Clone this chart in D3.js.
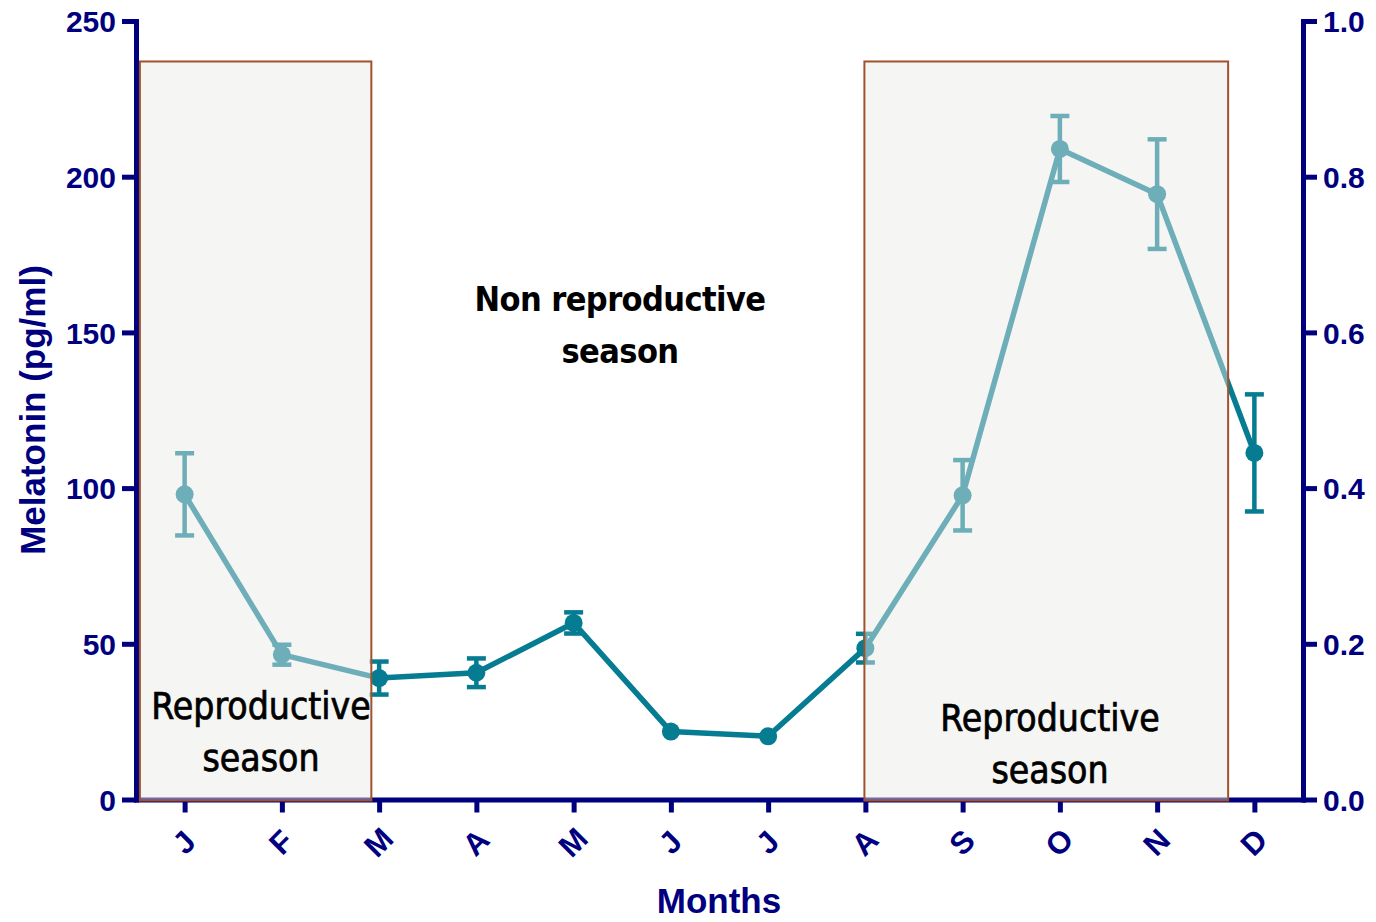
<!DOCTYPE html>
<html>
<head>
<meta charset="utf-8">
<script src="https://cdn.jsdelivr.net/npm/d3@7/dist/d3.min.js"></script>
<style>
  html, body { margin: 0; padding: 0; background: #ffffff; }
  svg { display: block; }
</style>
</head>
<body>
<svg id="chart" width="1376" height="922"></svg>
<script>
// Monthly melatonin concentration (mean ± SEM)
const months = ["J", "F", "M", "A", "M", "J", "J", "A", "S", "O", "N", "D"];
const melatonin = [98, 46.5, 39, 40.7, 56.7, 21.8, 20.3, 48.6, 97.7, 208.9, 194.4, 111.3];
const sem = [13.2, 3.2, 5.3, 4.6, 3.4, 1.2, 1.0, 4.6, 11.3, 10.6, 17.6, 18.8];

// Reproductive seasons, in month units (0 = January)
const seasonStart = [-0.46, 6.99];
const seasonEnd = [1.92, 10.73];
const seasonTop = 237;

const leftTicks = [0, 50, 100, 150, 200, 250];
const rightTicks = [0, 0.2, 0.4, 0.6, 0.8, 1.0];

const navy = "#00007f";
const lineColor = "#067c92";

const svg = d3.select("#chart");

const x = d3.scaleLinear().domain([-0.5, months.length - 0.5]).range([136, 1303]);
const y = d3.scaleLinear().domain([0, 250]).range([799.5, 21]);
const y2 = d3.scaleLinear().domain([0, 1]).range([799.5, 21]);

// ---- data line, points, error bars ----
const plot = svg.append("g");

const line = d3.line()
  .x((d, i) => x(i))
  .y(d => y(d));

plot.append("path")
  .datum(melatonin)
  .attr("d", line)
  .attr("fill", "none")
  .attr("stroke", lineColor)
  .attr("stroke-width", 5.5)
  .attr("stroke-linejoin", "round");

const markerR = 9;
const capHalf = 9.5;

const bars = plot.selectAll("g.err")
  .data(melatonin.map((v, i) => ({ i, v, e: sem[i] })))
  .join("g")
  .attr("class", "err");

// error bars are only shown where they reach beyond the marker
bars.filter(d => y(d.v - d.e) - y(d.v + d.e) > 2 * markerR).each(function(d) {
  const g = d3.select(this);
  const cx = x(d.i);
  g.append("line")
    .attr("x1", cx).attr("x2", cx)
    .attr("y1", y(d.v + d.e)).attr("y2", y(d.v - d.e))
    .attr("stroke", lineColor).attr("stroke-width", 4.5);
  [d.v + d.e, d.v - d.e].forEach(val => {
    g.append("line")
      .attr("x1", cx - capHalf).attr("x2", cx + capHalf)
      .attr("y1", y(val)).attr("y2", y(val))
      .attr("stroke", lineColor).attr("stroke-width", 4.5);
  });
});

bars.append("circle")
  .attr("cx", d => x(d.i))
  .attr("cy", d => y(d.v))
  .attr("r", markerR)
  .attr("fill", lineColor);

// ---- axes ----
const fontTick = "'Liberation Sans', Arial, sans-serif";

const axisL = svg.append("g")
  .attr("transform", `translate(${x.range()[0]},0)`)
  .call(d3.axisLeft(y).tickValues(leftTicks).tickSize(14).tickSizeOuter(0).tickPadding(6));

const axisR = svg.append("g")
  .attr("transform", `translate(${x.range()[1]},0)`)
  .call(d3.axisRight(y2).tickValues(rightTicks).tickFormat(d3.format(".1f"))
    .tickSize(14).tickSizeOuter(0).tickPadding(6));

const axisB = svg.append("g")
  .attr("transform", `translate(0,${y.range()[0]})`)
  .call(d3.axisBottom(x).tickValues(d3.range(months.length)).tickFormat(i => months[i])
    .tickSize(13).tickSizeOuter(0).tickPadding(0));

[axisL, axisR, axisB].forEach(a => {
  a.select(".domain").attr("stroke", navy).attr("stroke-width", 5).attr("stroke-linecap", "square");
  a.selectAll(".tick line").attr("stroke", navy).attr("stroke-width", 5);
  a.selectAll(".tick text")
    .attr("fill", navy)
    .style("font-family", fontTick)
    .style("font-weight", "bold")
    .style("font-size", "30px");
});

axisL.selectAll(".tick text").attr("dy", "0.36em");
axisR.selectAll(".tick text").attr("dy", "0.36em");

axisB.selectAll(".tick text")
  .attr("y", 0)
  .attr("dy", 0)
  .attr("text-anchor", "middle")
  .attr("dominant-baseline", "central")
  .attr("transform", "translate(-1,43) rotate(-45)")
  .style("font-size", "31px");

// axis titles
svg.append("text")
  .attr("x", 719).attr("y", 913)
  .attr("text-anchor", "middle")
  .attr("fill", navy)
  .style("font-family", fontTick)
  .style("font-weight", "bold")
  .style("font-size", "35px")
  .text("Months");

svg.append("text")
  .attr("transform", "translate(45,410) rotate(-90)")
  .attr("text-anchor", "middle")
  .attr("fill", navy)
  .style("font-family", fontTick)
  .style("font-weight", "bold")
  .style("font-size", "35px")
  .text("Melatonin (pg/ml)");

// ---- reproductive season overlays ----
const seasons = seasonStart.map((s, k) => ({ s, e: seasonEnd[k] }));

svg.append("g").selectAll("rect")
  .data(seasons)
  .join("rect")
  .attr("x", d => x(d.s))
  .attr("y", y(seasonTop))
  .attr("width", d => x(d.e) - x(d.s))
  .attr("height", d => y(0) + 1 - y(seasonTop))
  .attr("fill", "rgb(233,233,229)")
  .attr("fill-opacity", 0.46)
  .attr("stroke", "#a0522d")
  .attr("stroke-width", 2);

// ---- annotations ----
const fontNote = "'DejaVu Sans Condensed', 'DejaVu Sans', sans-serif";

function note(lines, cx, y0, opts) {
  const t = svg.append("text")
    .attr("text-anchor", "middle")
    .attr("fill", "#000")
    .attr("stroke", "#000")
    .attr("stroke-width", opts.stroke)
    .style("font-family", fontNote)
    .style("font-stretch", "condensed")
    .style("font-weight", opts.weight)
    .style("font-size", opts.size + "px")
    .style("letter-spacing", opts.spacing + "px");
  lines.forEach((l, k) => {
    t.append("tspan").attr("x", cx).attr("y", y0 + k * 52).text(l);
  });
}

const regular = { weight: "normal", size: 37, spacing: 0, stroke: 0.7 };
const heavy = { weight: "bold", size: 34, spacing: -0.6, stroke: 0 };

note(["Reproductive", "season"], 261, 719, regular);
note(["Reproductive", "season"], 1050, 731, regular);
note(["Non reproductive", "season"], 620, 311, heavy);
</script>
</body>
</html>
